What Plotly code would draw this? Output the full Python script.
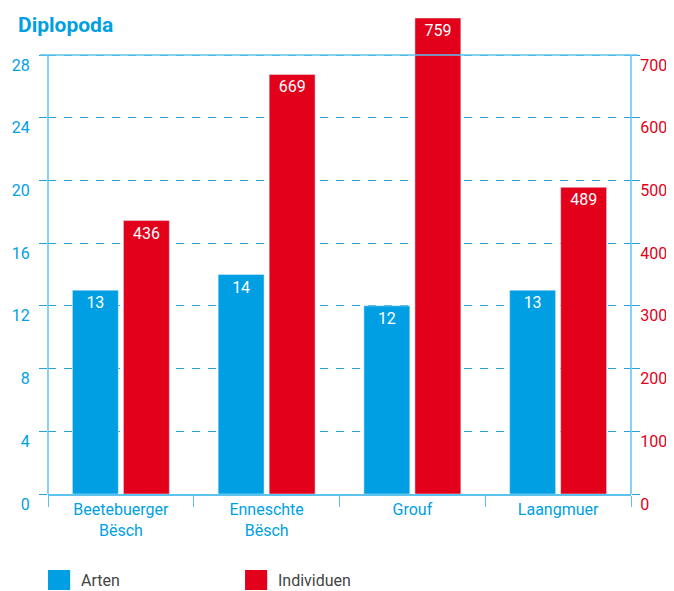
import plotly.graph_objects as go

categories = ["Beetebuerger<br>Bësch", "Enneschte<br>Bësch", "Grouf", "Laangmuer"]
arten = [13, 14, 12, 13]
individuen = [436, 669, 759, 489]
left_ticks = [0, 4, 8, 12, 16, 20, 24, 28]
right_ticks = [0, 100, 200, 300, 400, 500, 600, 700]

BLUE = "#009fe3"
RED = "#e2001a"
LINE = "#5cc3ef"
GRID = "#2a9fdc"
FONT = "Roboto, sans-serif"

# The frame of the chart stops at 28 / 700, but the tallest bar rises above it,
# so the plotting area is taller than the frame (480 px vs 439 px for the frame).
FRAME_PX, AREA_PX = 439, 480
left_max, right_max = left_ticks[-1], right_ticks[-1]
ext = AREA_PX / FRAME_PX

fig = go.Figure()
fig.add_trace(go.Bar(
    x=categories, y=arten, name="Arten", marker_color=BLUE,
    offsetgroup="a", yaxis="y",
    text=arten, textposition="inside", insidetextanchor="end",
    textfont=dict(color="white", size=16, family=FONT),
    showlegend=False,
))
fig.add_trace(go.Bar(
    x=categories, y=individuen, name="Individuen", marker_color=RED,
    offsetgroup="b", yaxis="y2",
    text=individuen, textposition="inside", insidetextanchor="end",
    textfont=dict(color="white", size=16, family=FONT),
    showlegend=False,
))

# the page body adds an 8px offset, so the figure is sized 8px smaller
fig.update_layout(
    width=666, height=583,
    margin=dict(l=40, r=43, t=6, b=97),
    paper_bgcolor="white", plot_bgcolor="white",
    barmode="group", bargap=0.30, bargroupgap=0.10,
    font=dict(family=FONT, size=16, color=BLUE),
    xaxis=dict(
        automargin=False,
        showline=True, linecolor=LINE, linewidth=1.5,
        ticks="outside", tickson="boundaries", ticklen=11, tickcolor=LINE,
        tickfont=dict(color=BLUE, size=16, family=FONT),
        showgrid=False,
    ),
    yaxis=dict(
        automargin=False,
        range=[0, left_max * ext], tickvals=left_ticks,
        showline=False,
        ticks="outside", ticklen=8, tickcolor=GRID, tickwidth=1.3,
        tickfont=dict(color=BLUE, size=16, family=FONT),
        ticklabelshift=10, ticklabelstandoff=6,
        showgrid=True, gridcolor=GRID, griddash="8px,8px", gridwidth=1.3,
        zeroline=False,
    ),
    yaxis2=dict(
        automargin=False,
        range=[0, right_max * ext], tickvals=right_ticks, overlaying="y", side="right",
        showline=False,
        ticks="outside", ticklen=8, tickcolor=GRID, tickwidth=1.3,
        tickfont=dict(color=RED, size=16, family=FONT),
        ticklabelshift=10, ticklabelstandoff=-3,
        showgrid=False, zeroline=False,
    ),
    title=dict(text="<b>Diplopoda</b>", x=0.015, xanchor="left", xref="container",
               y=0.971, yanchor="middle", yref="container", pad=dict(l=0, t=0, b=0, r=0),
               font=dict(color=BLUE, size=21, family=FONT)),
)

# frame: top line and the two vertical axis lines, ending at the top tick
fig.add_shape(type="line", xref="paper", yref="y", x0=-0.0137, x1=1.012,
              y0=left_max, y1=left_max, line=dict(color=LINE, width=1.5))
for xp in (0, 1):
    fig.add_shape(type="line", xref="paper", yref="y", x0=xp, x1=xp,
                  y0=0, y1=left_max, line=dict(color=LINE, width=1.5))

# manual legend (paper coords: plot area is AREA_PX tall)
legend_items = [("Arten", BLUE, 0.0), ("Individuen", RED, 0.338)]
for name, color, px in legend_items:
    fig.add_shape(type="rect", xref="paper", yref="paper",
                  x0=px, x1=px + 0.038, y0=-96 / AREA_PX, y1=-76 / AREA_PX,
                  fillcolor=color, line_width=0)
    fig.add_annotation(text=name, xref="paper", yref="paper",
                       x=px + 0.053, y=-86 / AREA_PX, xanchor="left", yanchor="middle",
                       showarrow=False, font=dict(color="#444444", size=16, family=FONT))

fig.write_html("out.html")
